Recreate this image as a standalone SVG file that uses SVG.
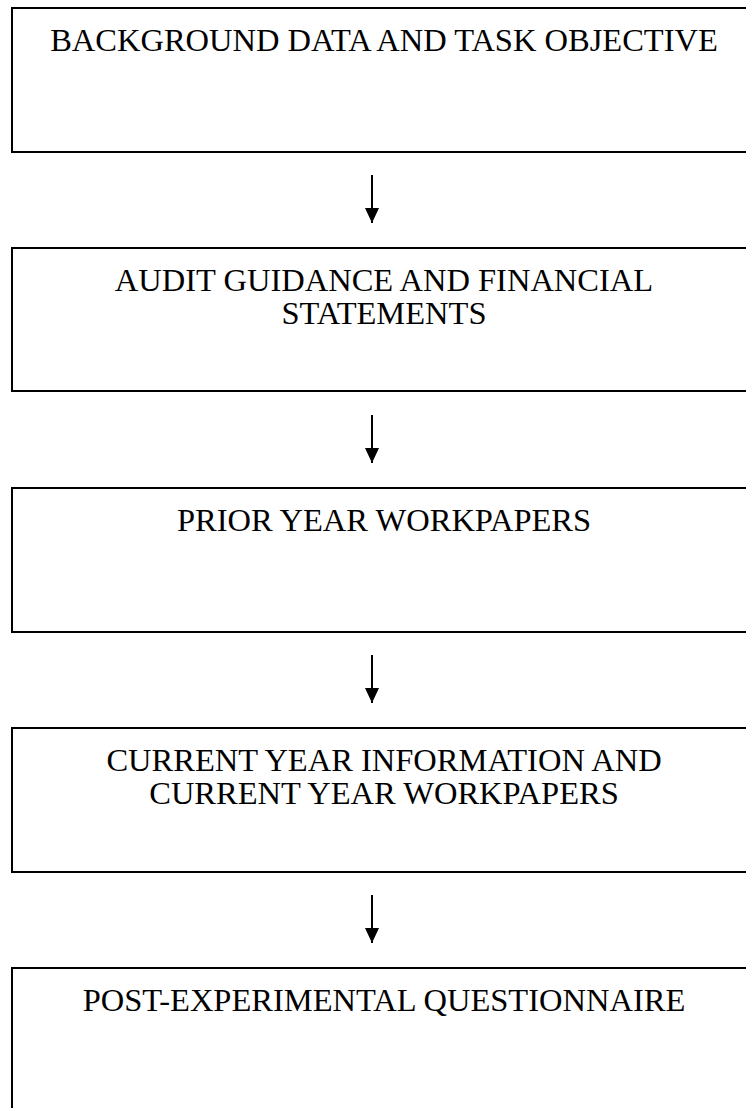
<svg xmlns="http://www.w3.org/2000/svg" width="746" height="1108" viewBox="0 0 746 1108">
<defs>
<style>
.box{fill:#fff;stroke:#000;stroke-width:2}
.t{font-family:"Liberation Serif","Times New Roman",serif;font-size:32.5px;fill:#000;text-anchor:middle}
.c{stroke:#000;stroke-width:2;fill:none}
</style>
<marker id="ah" viewBox="0 0 15 14" refX="15" refY="7" markerWidth="15" markerHeight="14" markerUnits="userSpaceOnUse" orient="auto">
<path d="M0,0 L15,7 L0,14 Z" fill="#000"/>
</marker>
</defs>
<rect width="746" height="1108" fill="#fff"/>
<g id="n1"><rect class="box" x="12" y="8" width="750" height="144"/><text class="t" x="384" y="51">BACKGROUND DATA AND TASK OBJECTIVE</text></g>
<g id="n2"><rect class="box" x="12" y="248" width="750" height="143"/><text class="t" x="384" y="291">AUDIT GUIDANCE AND FINANCIAL</text><text class="t" x="384" y="324">STATEMENTS</text></g>
<g id="n3"><rect class="box" x="12" y="488" width="750" height="144"/><text class="t" x="384" y="531">PRIOR YEAR WORKPAPERS</text></g>
<g id="n4"><rect class="box" x="12" y="728" width="750" height="144"/><text class="t" x="384" y="771">CURRENT YEAR INFORMATION AND</text><text class="t" x="384" y="804">CURRENT YEAR WORKPAPERS</text></g>
<g id="n5"><rect class="box" x="12" y="968" width="750" height="160"/><text class="t" x="384" y="1011">POST-EXPERIMENTAL QUESTIONNAIRE</text></g>
<g id="connectors">
<line class="c" x1="372" y1="175" x2="372" y2="223" marker-end="url(#ah)"/>
<line class="c" x1="372" y1="415" x2="372" y2="463" marker-end="url(#ah)"/>
<line class="c" x1="372" y1="655" x2="372" y2="703" marker-end="url(#ah)"/>
<line class="c" x1="372" y1="895" x2="372" y2="943" marker-end="url(#ah)"/>
</g>
</svg>
